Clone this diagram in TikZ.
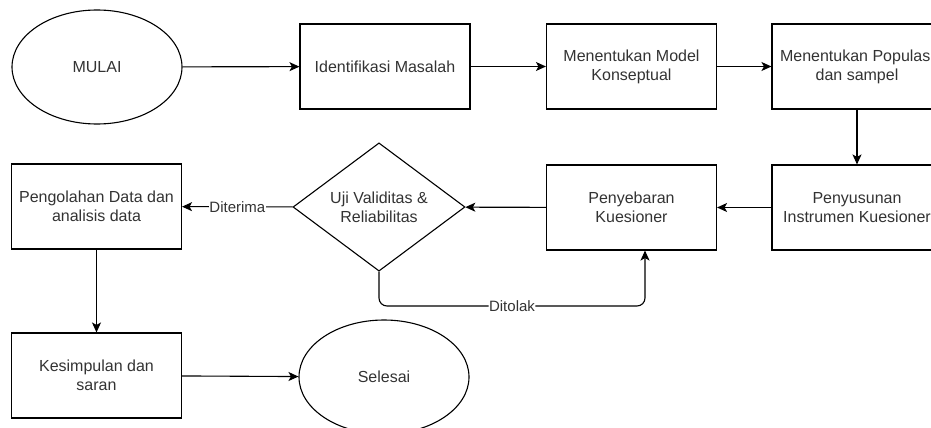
\documentclass[tikz,border=0pt]{standalone}
\usepackage{fontspec}
\setmainfont{Liberation Sans}
\usetikzlibrary{shapes.geometric,arrows.meta}
\definecolor{txt}{HTML}{333333}
\tikzset{
  box/.style={draw, line width=1.1pt, minimum width=170pt, minimum height=85pt, inner sep=0pt, align=center, font=\fontsize{16}{19}\selectfont, text=txt},
  oval/.style={ellipse, draw, line width=1.1pt, minimum width=170pt, minimum height=114pt, inner sep=0pt, align=center, font=\fontsize{16}{19}\selectfont, text=txt},
  decide/.style={diamond, draw, line width=1.1pt, minimum width=172pt, minimum height=126pt, inner sep=0pt, align=center, font=\fontsize{16}{19}\selectfont, text=txt},
  arr/.style={draw, line width=1.1pt, -{Stealth[length=10pt,width=9pt,inset=2.5pt]}},
  lbl/.style={fill=white, inner sep=0.5pt, font=\fontsize{15}{18}\selectfont, text=txt}
}
\begin{document}
\begin{tikzpicture}[x=1pt,y=-1pt]
\useasboundingbox (0,0) rectangle (931,428);
\clip (0,0) rectangle (931,428);
\fill[white] (0,0) rectangle (931,428);
\node[oval] (mulai) at (97,67) {MULAI};
\node[box] (ident) at (385,66.5) {Identifikasi Masalah};
\node[box] (model) at (631.5,66.5) {Menentukan Model\\Konseptual};
\node[box] (popul) at (857,66.5) {Menentukan Populasi\\dan sampel};
\node[box] (olah) at (96.5,206.5) {Pengolahan Data dan\\analisis data};
\node[decide] (uji) at (379,207) {Uji Validitas \&\\Reliabilitas};
\node[box] (sebar) at (631.5,207.5) {Penyebaran\\Kuesioner};
\node[box] (susun) at (857,207.5) {Penyusunan\\Instrumen Kuesioner};
\node[box] (simpul) at (96.5,375.5) {Kesimpulan dan\\saran};
\node[oval] (selesai) at (384,377) {Selesai};
\coordinate (dt) at (645,306);
\draw[arr] (mulai) -- (ident);
\draw[arr] (ident) -- (model);
\draw[arr] (model) -- (popul);
\draw[arr] (popul) -- (susun);
\draw[arr] (susun) -- (sebar);
\draw[arr] (sebar) -- (uji);
\draw[arr] (uji) -- node[lbl]{Diterima} (olah);
\draw[arr, rounded corners=8pt] (uji.south) |- node[lbl, pos=0.75]{Ditolak} (dt) -- (sebar.south -| dt);
\draw[arr] (olah) -- (simpul);
\draw[arr] (simpul) -- (selesai);
\end{tikzpicture}
\end{document}
